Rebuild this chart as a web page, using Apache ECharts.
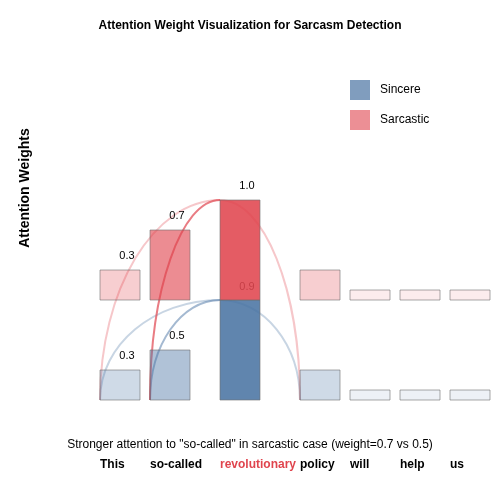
<!DOCTYPE html>
<html><head><meta charset="utf-8">
<script src="https://cdn.jsdelivr.net/npm/echarts@6/dist/echarts.min.js"></script>
<style>html,body{margin:0;padding:0;}#c{width:500px;height:500px;}</style>
</head><body><div id="c"></div>
<script>
const words = ['This','so-called','revolutionary','policy','will','help','us'];
const wordStart = [100,150,220,300,350,400,450];
const wordWidth = [40,40,40,40,40,40,40];
const sincereWeights = [0.3,0.5,1.0,0.3,0.1,0.1,0.1];
const sarcasticWeights = [0.3,0.7,1.0,0.3,0.1,0.1,0.1];
const sincereLabels = ['0.3','0.5','0.9','','','',''];
const sarcasticLabels = ['0.3','0.7','1.0','','','',''];
const sincereArcs = [[2,0,0.3],[2,1,0.5],[2,3,0.3]];
const sarcasticArcs = [[2,0,0.3],[2,1,0.7],[2,3,0.3]];
const SIN='#4a74a3', SAR='#e0454e';
function rgba(hex,a){const n=parseInt(hex.slice(1),16);return `rgba(${n>>16},${(n>>8)&255},${n&255},${a})`;}

const barData=[];
words.forEach((w,i)=>{
  barData.push([i,0,sincereWeights[i],sincereLabels[i],0]);
  barData.push([i,1,sarcasticWeights[i],sarcasticLabels[i],1]);
});
const arcData=[];
sincereArcs.forEach(a=>arcData.push([a[0],a[1],a[2],0]));
sarcasticArcs.forEach(a=>arcData.push([a[0],a[1],a[2],1]));

const chart=echarts.init(document.getElementById('c'));
chart.setOption({
  animation:false,
  title:{text:'Attention Weight Visualization for Sarcasm Detection',left:'center',top:15,textStyle:{fontSize:12,fontWeight:'bold',color:'#000',fontFamily:'Liberation Sans'}},
  legend:{orient:'vertical',left:345,top:75,itemWidth:20,itemHeight:20,itemGap:10,icon:'rect',
    textStyle:{fontSize:12,color:'#000',fontFamily:'Liberation Sans',padding:[0,0,0,5]},data:['Sincere','Sarcastic']},
  grid:{left:0,right:0,top:200,bottom:100},
  xAxis:{type:'value',min:0,max:500,show:false},
  yAxis:{type:'value',min:0,max:2,show:false},
  graphic:[
    {type:'text',x:25,y:188,rotation:Math.PI/2,style:{text:'Attention Weights',align:'center',verticalAlign:'middle',fontSize:14,fontWeight:'bold',fill:'#000',fontFamily:'Liberation Sans'}},
    {type:'text',left:'center',top:439,style:{text:'Stronger attention to "so-called" in sarcastic case (weight=0.7 vs 0.5)',fontSize:12,fill:'#000',fontFamily:'Liberation Sans'}}
  ],
  series:[
    {name:'Sincere',type:'custom',data:[],itemStyle:{color:rgba(SIN,0.7)},renderItem:()=>null},
    {name:'Sarcastic',type:'custom',data:[],itemStyle:{color:rgba(SAR,0.6)},renderItem:()=>null},
    {type:'custom',z:1,clip:false,silent:true,data:arcData,encode:{x:0,y:1},
      renderItem:(p,api)=>{
        const f=api.value(0),t=api.value(1),w=api.value(2),r=api.value(3);
        const top = r ? 1+sarcasticWeights[f] : sincereWeights[f];
        const s=api.coord([wordStart[f],top]);
        const e=api.coord([wordStart[t],0]);
        const k=0.5523;
        return {type:'bezierCurve',shape:{x1:s[0],y1:s[1],x2:e[0],y2:e[1],
          cpx1:s[0]+(e[0]-s[0])*k,cpy1:s[1],cpx2:e[0],cpy2:e[1]-(e[1]-s[1])*k},
          style:{fill:null,stroke:rgba(r?SAR:SIN,w),lineWidth:2}};
      }},
    {type:'custom',z:2,clip:false,silent:true,data:barData,encode:{x:0,y:1},
      renderItem:(p,api)=>{
        const i=api.value(0),r=api.value(1),v=api.value(2),lab=barData[p.dataIndex][3];
        const col=r?SAR:SIN;
        const tl=api.coord([wordStart[i],r+v]);
        const br=api.coord([wordStart[i]+wordWidth[i],r]);
        const ch=[{type:'rect',shape:{x:tl[0],y:tl[1],width:br[0]-tl[0],height:br[1]-tl[1]},
          style:{fill:rgba(col,Math.max(0.1,v*0.88)),stroke:'rgba(110,110,110,0.6)',lineWidth:1}}];
        if(lab){
          const ly = (r===0&&i===2)? tl[1]-13 : tl[1]-14;
          ch.push({type:'text',style:{text:lab,x:(tl[0]+br[0])/2+7,y:ly,align:'center',verticalAlign:'middle',fontSize:11,fill:'#000',fontFamily:'Liberation Sans'}});
        }
        if(r===0){
          const b=api.coord([wordStart[i],0]);
          ch.push({type:'text',style:{text:words[i],x:b[0],y:b[1]+65,align:'left',verticalAlign:'middle',fontSize:12,fontWeight:'bold',fill:i===2?'#e0454e':'#000',fontFamily:'Liberation Sans'}});
        }
        return {type:'group',children:ch};
      }}
  ]
});
</script></body></html>
